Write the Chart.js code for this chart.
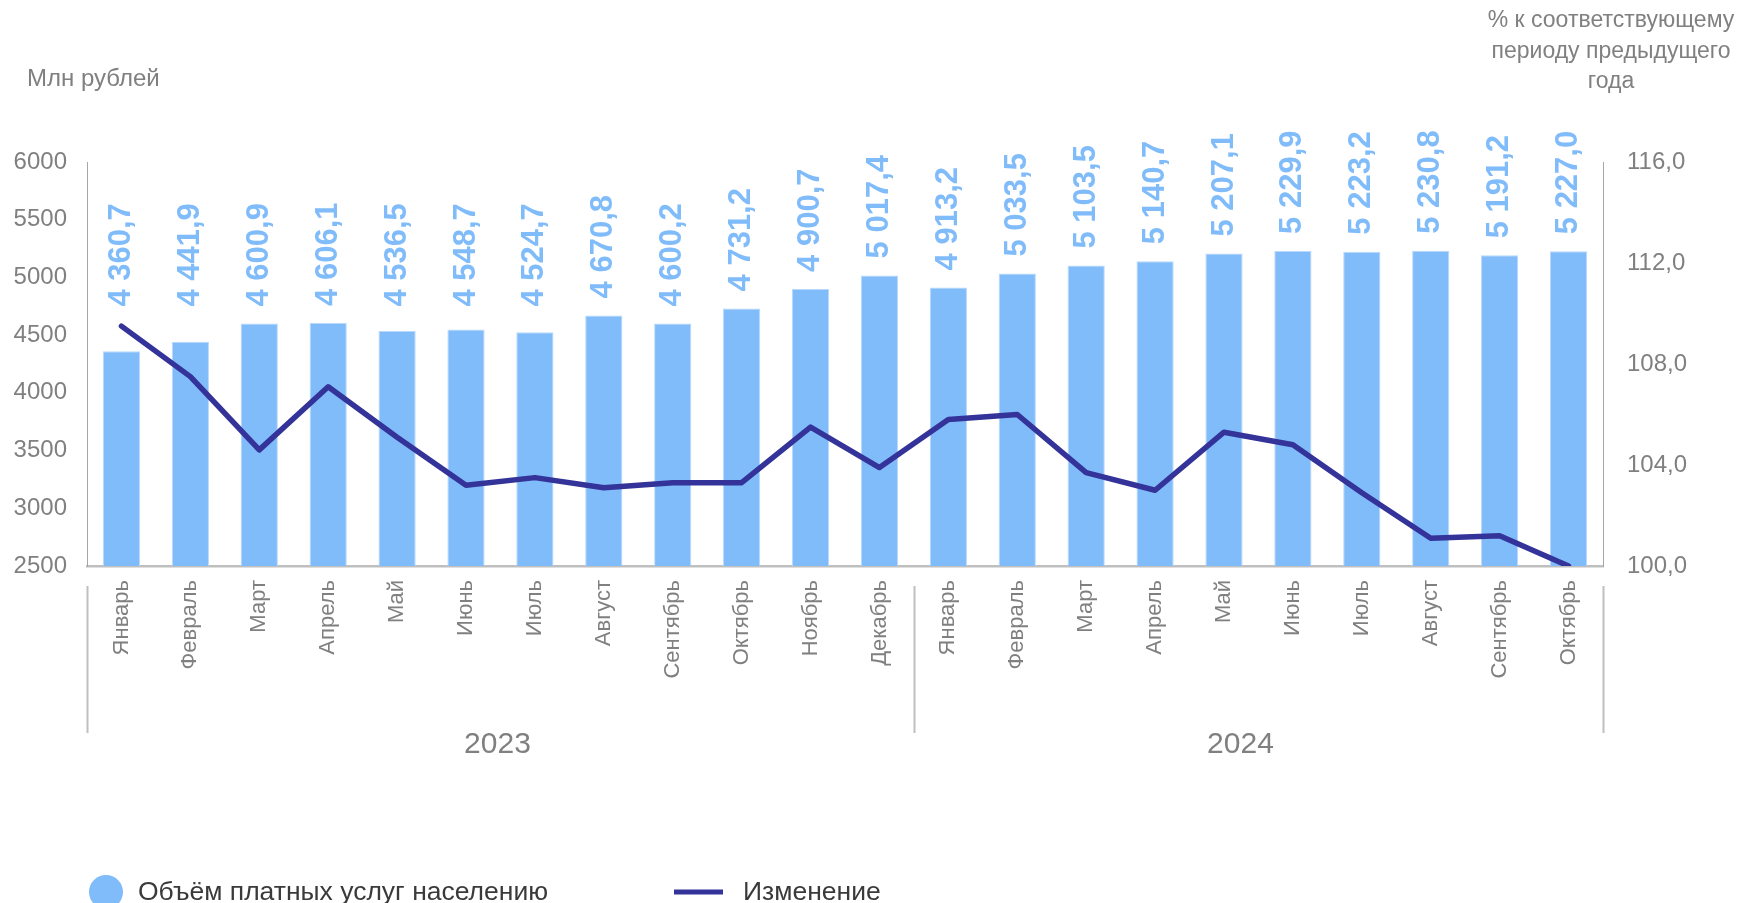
<!DOCTYPE html>
<html>
<head>
<meta charset="utf-8">
<script src="https://cdn.jsdelivr.net/npm/chart.js@4/dist/chart.umd.min.js"></script>
<style>
  html, body { margin: 0; padding: 0; background: #fff; }
  #wrap { width: 1744px; height: 903px; position: relative; }
</style>
</head>
<body>
<div id="wrap"><canvas id="chart"></canvas></div>
<script>
const months = ['Январь', 'Февраль', 'Март', 'Апрель', 'Май', 'Июнь', 'Июль', 'Август', 'Сентябрь', 'Октябрь', 'Ноябрь', 'Декабрь',
  'Январь', 'Февраль', 'Март', 'Апрель', 'Май', 'Июнь', 'Июль', 'Август', 'Сентябрь', 'Октябрь'];
const years = ['2023', '2024'];
const yearSpans = [[0, 11], [12, 21]];
const volume = [4360.7, 4441.9, 4600.9, 4606.1, 4536.5, 4548.7, 4524.7, 4670.8, 4600.2, 4731.2, 4900.7, 5017.4,
  4913.2, 5033.5, 5103.5, 5140.7, 5207.1, 5229.9, 5223.2, 5230.8, 5191.2, 5227.0];
const change = [109.5, 107.5, 104.6, 107.1, 105.1, 103.2, 103.5, 103.1, 103.3, 103.3, 105.5, 103.9,
  105.8, 106.0, 103.7, 103.0, 105.3, 104.8, 102.9, 101.1, 101.2, 100.0];
const leftTicks = [2500, 3000, 3500, 4000, 4500, 5000, 5500, 6000];
const rightTicks = [100, 104, 108, 112, 116];

const barColor = '#80bbfa';
const lineColor = '#333399';
const grey = '#808080';
const font = '"Liberation Sans", Arial, sans-serif';

function fmtVolume(v) {
  const parts = v.toFixed(1).split('.');
  return parts[0].replace(/\B(?=(\d{3})+(?!\d))/g, ' ') + ',' + parts[1];
}

const overlay = {
  id: 'overlay',
  afterDatasetsDraw(chart) {
    const ctx = chart.ctx;
    const y = chart.scales.y;
    const meta = chart.getDatasetMeta(1); // bars
    ctx.save();
    ctx.fillStyle = barColor;
    ctx.font = 'bold 31px ' + font;
    ctx.textAlign = 'left';
    ctx.textBaseline = 'middle';
    meta.data.forEach((bar, i) => {
      const base = Math.min(bar.y, y.getPixelForValue(4600)) - 17;
      ctx.save();
      ctx.translate(bar.x, base);
      ctx.rotate(-Math.PI / 2);
      ctx.fillText(fmtVolume(volume[i]), 0, 0);
      ctx.restore();
    });
    ctx.restore();
  },
  afterDraw(chart) {
    const ctx = chart.ctx;
    const x = chart.scales.x;
    const area = chart.chartArea;
    ctx.save();

    // group separators under the axis
    const edges = [area.left,
      (x.getPixelForValue(11) + x.getPixelForValue(12)) / 2,
      area.right];
    ctx.strokeStyle = '#bfbfbf';
    ctx.lineWidth = 2;
    edges.forEach(px => {
      ctx.beginPath();
      ctx.moveTo(Math.round(px) + 0.5, area.bottom + 20);
      ctx.lineTo(Math.round(px) + 0.5, area.bottom + 167);
      ctx.stroke();
    });

    // year labels
    ctx.fillStyle = grey;
    ctx.font = '30px ' + font;
    ctx.textAlign = 'center';
    ctx.textBaseline = 'middle';
    yearSpans.forEach((span, i) => {
      const cx = (edges[i] + edges[i + 1]) / 2;
      ctx.fillText(years[i], cx - (i === 1 ? 18 : 3), area.bottom + 179);
    });

    // axis titles
    ctx.font = '24px ' + font;
    ctx.textAlign = 'left';
    ctx.fillText('Млн рублей', 27, 79);
    ctx.font = '23px ' + font;
    ctx.textAlign = 'center';
    ['% к соответствующему', 'периоду предыдущего', 'года'].forEach((t, i) => {
      ctx.fillText(t, 1611, 21 + i * 30.5);
    });

    // legend
    ctx.fillStyle = barColor;
    ctx.beginPath();
    ctx.arc(106, 892, 17, 0, Math.PI * 2);
    ctx.fill();
    ctx.strokeStyle = lineColor;
    ctx.lineWidth = 5;
    ctx.beginPath();
    ctx.moveTo(674, 892);
    ctx.lineTo(723, 892);
    ctx.stroke();
    ctx.fillStyle = '#3a3a3a';
    ctx.font = '26.5px ' + font;
    ctx.textAlign = 'left';
    ctx.fillText('Объём платных услуг населению', 138, 893);
    ctx.fillText('Изменение', 743, 893);
    ctx.restore();
  }
};

new Chart(document.getElementById('chart'), {
  data: {
    labels: months,
    datasets: [
      {
        type: 'line',
        label: 'Изменение',
        data: change,
        yAxisID: 'y1',
        borderColor: lineColor,
        borderWidth: 5.5,
        borderCapStyle: 'round',
        borderJoinStyle: 'round',
        pointRadius: 0,
        tension: 0,
        order: 0
      },
      {
        type: 'bar',
        label: 'Объём платных услуг населению',
        data: volume,
        yAxisID: 'y',
        backgroundColor: barColor,
        borderColor: '#b9d8fb',
        borderWidth: 1,
        barPercentage: 0.54,
        categoryPercentage: 1,
        order: 1
      }
    ]
  },
  options: {
    responsive: true,
    maintainAspectRatio: false,
    animation: false,
    layout: { padding: { top: 162, left: 0, right: 0, bottom: 0 } },
    plugins: {
      legend: { display: false },
      tooltip: { enabled: false }
    },
    scales: {
      x: {
        grid: { display: false },
        border: { display: true, color: '#bfbfbf', width: 2.5 },
        ticks: {
          color: grey,
          font: { family: font, size: 22 },
          minRotation: 90,
          maxRotation: 90,
          autoSkip: false,
          padding: 6
        },
        afterFit(scale) { scale.height = 337; }
      },
      y: {
        position: 'left',
        min: 2500,
        max: 6000,
        grid: { display: false },
        border: { display: true, color: '#a6a6a6', width: 1 },
        afterBuildTicks(scale) { scale.ticks = leftTicks.map(v => ({ value: v })); },
        ticks: {
          color: grey,
          font: { family: font, size: 24 },
          padding: 12,
          callback: v => String(v)
        },
        afterFit(scale) { scale.width = 87; }
      },
      y1: {
        position: 'right',
        min: 100,
        max: 116,
        grid: { display: false },
        border: { display: true, color: '#a6a6a6', width: 1 },
        afterBuildTicks(scale) { scale.ticks = rightTicks.map(v => ({ value: v })); },
        ticks: {
          color: grey,
          font: { family: font, size: 24 },
          padding: 16,
          callback: v => v.toFixed(1).replace('.', ',')
        },
        afterFit(scale) { scale.width = 141; }
      }
    }
  },
  plugins: [overlay]
});
</script>
</body>
</html>
